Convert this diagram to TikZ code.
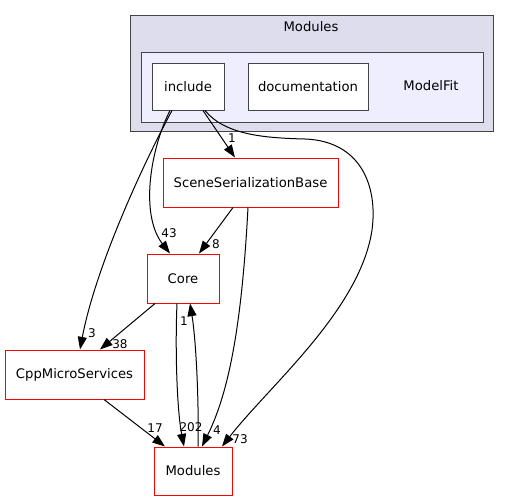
\documentclass[tikz,border=0pt]{standalone}
\usepackage{fontspec}
\setmainfont{DejaVu Sans}
\usetikzlibrary{arrows.meta, calc}

\definecolor{outerfill}{HTML}{DDDDEE}
\definecolor{innerfill}{HTML}{EEEEFF}
\definecolor{frame}{HTML}{444444}

\begin{document}
\begin{tikzpicture}[x=0.75pt, y=-0.75pt, >={Triangle[length=9.5pt, width=6.8pt]},
    dirbox/.style={draw=frame, fill=white, line width=0.75pt, inner sep=0pt,
        minimum height=47*0.75pt, font=\fontsize{9.9pt}{11pt}\selectfont},
    depbox/.style={draw=red, fill=white, line width=0.75pt, inner sep=0pt,
        minimum height=49*0.75pt, font=\fontsize{9.9pt}{11pt}\selectfont},
    dep/.style={->, line width=0.75pt},
    lbl/.style={inner sep=0pt, font=\fontsize{9pt}{10pt}\selectfont}]
        % --- bounding box ---
        \useasboundingbox (0,0) rectangle (509,500);

        % --- clusters ---
        \filldraw[fill=outerfill, draw=frame, line width=0.75pt] (130,15) rectangle (493,131);
        \node[lbl, font=\fontsize{9.9pt}{11pt}\selectfont] (tModules) at (311,27) {Modules};
        \filldraw[fill=innerfill, draw=frame, line width=0.75pt] (141,52) rectangle (483,122);
        \node[lbl, font=\fontsize{9.9pt}{11pt}\selectfont] (tModelFit) at (431,86) {ModelFit};

        % --- directories ---
        \node[dirbox, minimum width=72*0.75pt] (inc) at (188,86.5) {include};
        \node[dirbox, minimum width=120*0.75pt] (doc) at (308,86.5) {documentation};
        \node[depbox, minimum width=175*0.75pt] (scene) at (250.5,182.5) {SceneSerializationBase};
        \node[depbox, minimum width=72*0.75pt] (core) at (183,278.5) {Core};
        \node[depbox, minimum width=139*0.75pt] (cpp) at (74.5,374.5) {CppMicroServices};
        \node[depbox, minimum width=78*0.75pt, minimum height=48*0.75pt] (mod) at (193,471) {Modules};

        % --- dependencies from include ---
        \draw[dep] ($(inc.south)+(15,0)$) -- ($(scene.north)+(-15.5,0)$);
        \draw[dep] ($(inc.south)+(-18,0)$) .. controls (150,150) and (140,215) .. ($(core.north)+(-13,0)$);
        \draw[dep] ($(inc.south)+(-16,0)$) .. controls (140,170) and (95,270) .. ($(cpp.north)+(5.5,0)$);
        \draw[dep] ($(inc.south)+(17,0)$) .. controls (225,135) and (265,138) .. (305,139)
            .. controls (360,141) and (378,185) .. (372,230)
            .. controls (360,310) and (270,385) .. ($(mod.north)+(29,0)$);

        % --- other dependencies ---
        \draw[dep] ($(scene.south)+(-17.5,0)$) -- ($(core.north)+(16,0)$);
        \draw[dep] ($(scene.south)+(-2.5,0)$) .. controls (242,320) and (230,390) .. ($(mod.north)+(9,0)$);
        \draw[dep] ($(core.south)+(-28,0)$) -- ($(cpp.north)+(25.5,0)$);
        \draw[dep] ($(core.south)+(-6,0)$) .. controls (175,350) and (177,410) .. ($(mod.north)+(-9,0)$);
        \draw[dep] ($(mod.north)+(5,0)$) .. controls (199,400) and (196,340) .. ($(core.south)+(7,0)$);
        \draw[dep] ($(cpp.south)+(29.5,0)$) -- ($(mod.north)+(-28,0)$);

        % --- edge counts ---
        \node[lbl] (lIncScene) at (232,138) {1};
        \node[lbl] (lIncCore) at (169,233) {43};
        \node[lbl] (lSceneCore) at (216,244) {8};
        \node[lbl] (lIncCpp) at (92,333) {3};
        \node[lbl] (lCoreCpp) at (120,344) {38};
        \node[lbl] (lModCore) at (184,321) {1};
        \node[lbl] (lCppMod) at (155,428) {17};
        \node[lbl] (lCoreMod) at (191,427) {202};
        \node[lbl] (lSceneMod) at (217,430) {4};
        \node[lbl] (lIncMod) at (240,439) {73};
    \end{tikzpicture}
\end{document}
